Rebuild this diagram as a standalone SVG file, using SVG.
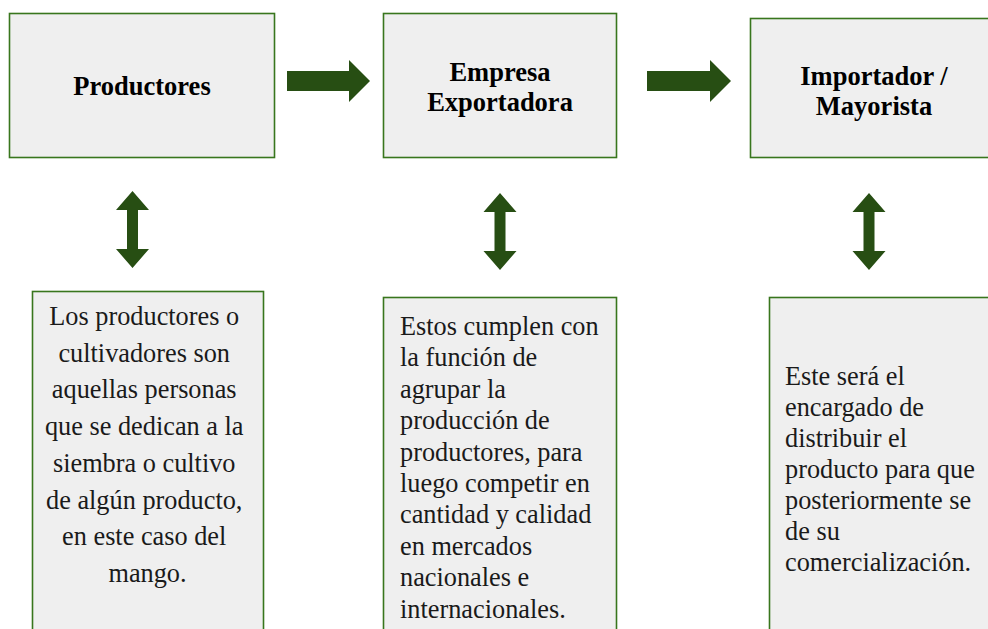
<svg xmlns="http://www.w3.org/2000/svg" width="988" height="629" viewBox="0 0 988 629">
<style>
.box{fill:#efefef;stroke:#38761d;stroke-width:1.6}
.arr{fill:#274e13}
.h{font-family:"Liberation Serif","Times New Roman",serif;font-weight:bold;font-size:26.5px;fill:#000;text-anchor:middle}
.t{font-family:"Liberation Serif","Times New Roman",serif;font-size:26.3px;fill:#1a1a1a}
.c{text-anchor:middle}
</style>
<defs>
<path id="va" d="M0,0 L16.5,19 L5.5,19 L5.5,58 L16.5,58 L0,77 L-16.5,58 L-5.5,58 L-5.5,19 L-16.5,19 Z"/>
</defs>
<g id="productores">
<rect class="box" x="9.5" y="13.5" width="265" height="144"/>
<text class="h" x="142" y="95">Productores</text>
</g>
<g id="empresa">
<rect class="box" x="383.5" y="13.5" width="233" height="144"/>
<text class="h" x="500" y="81">Empresa</text>
<text class="h" x="500" y="111">Exportadora</text>
</g>
<g id="importador">
<rect class="box" x="750.5" y="18.5" width="245" height="139"/>
<text class="h" x="874" y="85">Importador /</text>
<text class="h" x="874" y="115">Mayorista</text>
</g>
<g id="desc-productores">
<rect class="box" x="32.5" y="291.5" width="231" height="360"/>
<text class="t c" x="147.5">
<tspan x="147.5" y="325">Los productores o</tspan>
<tspan x="147.5" y="361.7">cultivadores son</tspan>
<tspan x="147.5" y="398.4">aquellas personas</tspan>
<tspan x="147.5" y="435.1">que se dedican a la</tspan>
<tspan x="147.5" y="471.8">siembra o cultivo</tspan>
<tspan x="147.5" y="508.5">de algún producto,</tspan>
<tspan x="147.5" y="545.2">en este caso del</tspan>
<tspan x="147.5" y="581.9">mango.</tspan>
</text>
</g>
<g id="desc-empresa">
<rect class="box" x="383.5" y="297.5" width="233" height="360"/>
<text class="t">
<tspan x="400" y="335">Estos cumplen con</tspan>
<tspan x="400" y="366.4">la función de</tspan>
<tspan x="400" y="397.8">agrupar la</tspan>
<tspan x="400" y="429.2">producción de</tspan>
<tspan x="400" y="460.6">productores, para</tspan>
<tspan x="400" y="492">luego competir en</tspan>
<tspan x="400" y="523.4">cantidad y calidad</tspan>
<tspan x="400" y="554.8">en mercados</tspan>
<tspan x="400" y="586.2">nacionales e</tspan>
<tspan x="400" y="617.6">internacionales.</tspan>
</text>
</g>
<g id="desc-importador">
<rect class="box" x="769.5" y="297.5" width="230" height="360"/>
<text class="t">
<tspan x="785" y="385">Este será el</tspan>
<tspan x="785" y="416">encargado de</tspan>
<tspan x="785" y="447">distribuir el</tspan>
<tspan x="785" y="478">producto para que</tspan>
<tspan x="785" y="509">posteriormente se</tspan>
<tspan x="785" y="540">de su</tspan>
<tspan x="785" y="571">comercialización.</tspan>
</text>
</g>
<g id="connectors">
<path class="arr" d="M287,71 L349,71 L349,60 L370,81 L349,102 L349,91 L287,91 Z"/>
<path class="arr" d="M647,71 L710,71 L710,60 L731,81 L710,102 L710,91 L647,91 Z"/>
<use class="arr" href="#va" x="132.5" y="191"/>
<use class="arr" href="#va" x="500" y="193"/>
<use class="arr" href="#va" x="869" y="193"/>
</g>
</svg>
